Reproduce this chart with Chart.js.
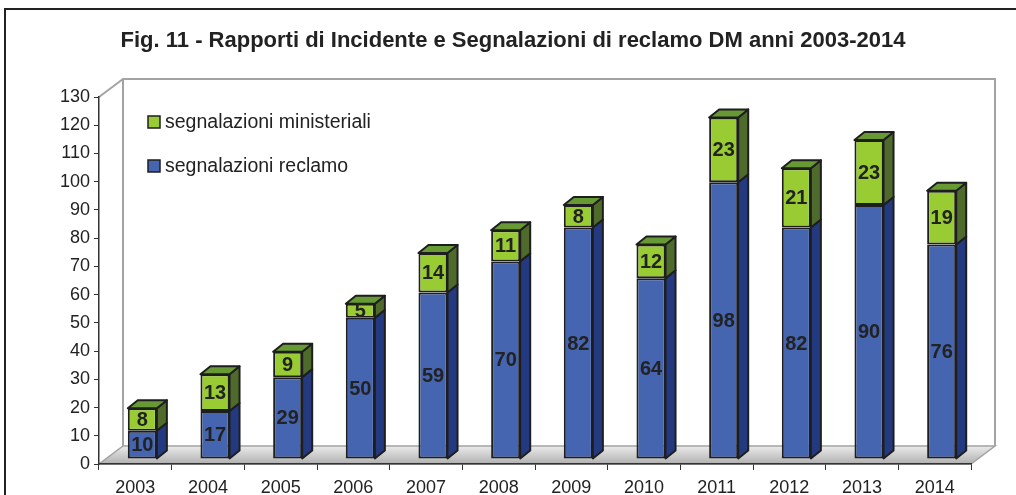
<!DOCTYPE html>
<html>
<head>
<meta charset="utf-8">
<script src="https://cdn.jsdelivr.net/npm/chart.js@4.4.1/dist/chart.umd.min.js"></script>
<style>
    html, body { margin: 0; padding: 0; background: #fff; }
    canvas { display: block; }
</style>
</head>
<body>
<canvas id="chart" width="1016" height="495"></canvas>
<script>
const years = ['2003', '2004', '2005', '2006', '2007', '2008', '2009', '2010', '2011', '2012', '2013', '2014'];
const reclamo = [10, 17, 29, 50, 59, 70, 82, 64, 98, 82, 90, 76];
const ministeriali = [8, 13, 9, 5, 14, 11, 8, 12, 23, 21, 23, 19];
const Y_MIN = 0;
const Y_MAX = 130;
const Y_STEP = 10;

const FONT = '"Liberation Sans", Arial, sans-serif';
const WALL_DX = 24, WALL_DY = -18;   // depth of the back wall
const BAR_DX = 10, BAR_DY = -8;      // depth of each bar
const SHIFT_X = 7, SHIFT_Y = -5;     // bars sit a bit behind the front edge

const colors = {
    blue: '#4565b0', blueSide: '#243a80',
    green: '#99cc33', greenSide: '#4e6b2c', greenTop: '#679a35',
    edge: '#1e1e1e', wall: '#a3a3a3'
};

function poly(ctx, pts, fill) {
    ctx.beginPath();
    ctx.moveTo(pts[0][0], pts[0][1]);
    for (let i = 1; i < pts.length; i++) ctx.lineTo(pts[i][0], pts[i][1]);
    ctx.closePath();
    ctx.fillStyle = fill;
    ctx.fill();
    ctx.stroke();
}

// frame, floor and back wall, drawn before the axes
const backdrop = {
    id: 'backdrop',
    beforeDraw(chart) {
        const { ctx, chartArea: a } = chart;
        ctx.save();
        ctx.strokeStyle = '#222';
        ctx.lineWidth = 2;
        ctx.beginPath();
        ctx.moveTo(5, 500);
        ctx.lineTo(5, 9);
        ctx.lineTo(1020, 9);
        ctx.stroke();

        const g = ctx.createLinearGradient(0, a.bottom + WALL_DY, 0, a.bottom);
        g.addColorStop(0, '#ebebeb');
        g.addColorStop(1, '#b0b0b0');
        ctx.strokeStyle = colors.wall;
        ctx.lineWidth = 1.5;
        poly(ctx, [[a.left, a.bottom], [a.right, a.bottom],
                   [a.right + WALL_DX, a.bottom + WALL_DY], [a.left + WALL_DX, a.bottom + WALL_DY]], g);

        ctx.lineWidth = 2;
        ctx.beginPath();
        ctx.moveTo(a.left + WALL_DX, a.bottom + WALL_DY);
        ctx.lineTo(a.left + WALL_DX, a.top + WALL_DY);
        ctx.lineTo(a.right + WALL_DX, a.top + WALL_DY);
        ctx.lineTo(a.right + WALL_DX, a.bottom + WALL_DY);
        ctx.moveTo(a.left, a.top);
        ctx.lineTo(a.left + WALL_DX, a.top + WALL_DY);
        ctx.stroke();
        ctx.restore();
    },
    beforeDatasetsDraw(chart) {
        chart.ctx.save();
        chart.ctx.translate(SHIFT_X, SHIFT_Y);
    },
    afterDatasetsDraw(chart) {
        const ctx = chart.ctx;
        const sides = [colors.blueSide, colors.greenSide];
        const last = chart.data.datasets.length - 1;
        ctx.lineWidth = 2;
        ctx.lineJoin = 'round';
        ctx.strokeStyle = colors.edge;
        chart.data.datasets.forEach((ds, di) => {
            chart.getDatasetMeta(di).data.forEach(el => {
                const { x, y, base, width } = el.getProps(['x', 'y', 'base', 'width'], true);
                const L = x - width / 2, R = x + width / 2;
                poly(ctx, [[R, y], [R + BAR_DX, y + BAR_DY], [R + BAR_DX, base + BAR_DY], [R, base]], sides[di]);
                if (di === last) {
                    poly(ctx, [[L, y], [L + BAR_DX, y + BAR_DY], [R + BAR_DX, y + BAR_DY], [R, y]], colors.greenTop);
                }
            });
        });
        // value labels in the middle of each segment
        ctx.font = 'bold 20px ' + FONT;
        ctx.fillStyle = '#222';
        ctx.textAlign = 'center';
        ctx.textBaseline = 'middle';
        chart.data.datasets.forEach((ds, di) => {
            chart.getDatasetMeta(di).data.forEach((el, i) => {
                const { x, y, base } = el.getProps(['x', 'y', 'base'], true);
                ctx.fillText(String(ds.data[i]), x, (y + base) / 2 + 1);
            });
        });
        ctx.restore();
    },
    afterDraw(chart) {
        const ctx = chart.ctx;
        const items = chart.data.datasets.slice().reverse();
        ctx.save();
        ctx.font = '19.5px ' + FONT;
        ctx.textBaseline = 'middle';
        ctx.textAlign = 'left';
        ctx.lineWidth = 1.5;
        ctx.strokeStyle = colors.edge;
        items.forEach((ds, i) => {
            const cy = 122 + i * 44;
            ctx.fillStyle = ds.backgroundColor;
            ctx.fillRect(148, cy - 6, 12, 12);
            ctx.strokeRect(148, cy - 6, 12, 12);
            ctx.fillStyle = '#222';
            ctx.fillText(ds.label, 165, cy + 1);
        });
        ctx.restore();
    }
};

Chart.defaults.font.family = FONT;

new Chart(document.getElementById('chart'), {
    type: 'bar',
    data: {
        labels: years,
        datasets: [
            {
                label: 'segnalazioni reclamo',
                data: reclamo,
                backgroundColor: colors.blue,
                borderColor: colors.edge,
                borderWidth: 2,
                borderSkipped: false,
                categoryPercentage: 0.8,
                barPercentage: 0.5
            },
            {
                label: 'segnalazioni ministeriali',
                data: ministeriali,
                backgroundColor: colors.green,
                borderColor: colors.edge,
                borderWidth: 2,
                borderSkipped: false,
                categoryPercentage: 0.8,
                barPercentage: 0.5
            }
        ]
    },
    options: {
        responsive: false,
        animation: false,
        devicePixelRatio: 1,
        // left padding keeps the title centred like the original
        layout: { padding: { left: 55, right: 45, top: 0, bottom: 0 } },
        scales: {
            x: {
                stacked: true,
                ticks: { color: '#222', font: { size: 18 }, padding: 7 },
                grid: { drawOnChartArea: false, tickLength: 6, color: '#333', offset: true },
                border: { color: '#333', width: 1.5 },
                afterFit(s) { s.height = 31; }
            },
            y: {
                stacked: true,
                min: Y_MIN,
                max: Y_MAX,
                ticks: { stepSize: Y_STEP, color: '#222', font: { size: 18 }, padding: 4 },
                grid: { drawOnChartArea: false, tickLength: 5, color: '#333' },
                border: { color: '#333', width: 1.5 },
                afterFit(s) { s.width = 44; }
            }
        },
        plugins: {
            legend: { display: false },
            tooltip: { enabled: false },
            title: {
                display: true,
                text: 'Fig. 11 - Rapporti di Incidente e Segnalazioni di reclamo DM anni 2003-2014',
                color: '#222',
                font: { size: 22, weight: 'bold' },
                padding: { top: 28, bottom: 42.6 }
            }
        }
    },
    plugins: [backdrop]
});
</script>
</body>
</html>
